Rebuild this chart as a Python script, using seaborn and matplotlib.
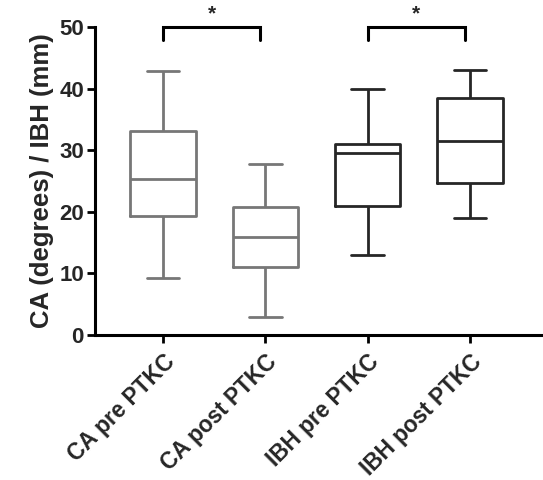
import pandas as pd
import numpy as np
import matplotlib
matplotlib.use("Agg")
import matplotlib.pyplot as plt
import seaborn as sns

# ===============================================================
# DATA (five-number summaries: min, Q1, median, Q3, max)
# ===============================================================

groups = ["CA pre PTKC", "CA post PTKC", "IBH pre PTKC", "IBH post PTKC"]
ca_pre = [9.3, 19.3, 25.3, 33.1, 42.9]
ca_post = [3.0, 11.1, 15.9, 20.7, 27.7]
ibh_pre = [13.0, 20.9, 29.5, 31.0, 40.0]
ibh_post = [19.0, 24.7, 31.5, 38.4, 43.0]
box_colors = ["#777777", "#777777", "#262626", "#262626"]
sig_pairs = [(0, 1), (2, 3)]
sig_labels = ["*", "*"]

df = pd.DataFrame({
    "group": np.repeat(groups, 5),
    "value": ca_pre + ca_post + ibh_pre + ibh_post,
})

# ===============================================================
# PLOT
# ===============================================================

sns.set_style("ticks")
plt.rcParams["font.family"] = ["Liberation Sans", "DejaVu Sans"]
plt.rcParams["font.weight"] = "bold"

fig = plt.figure(figsize=(5.43, 4.8), dpi=100)
ax = fig.add_axes([0.175, 0.302, 0.825, 0.642])

sns.boxplot(
    data=df, x="group", y="value", hue="group", order=groups,
    palette=box_colors, fill=False, whis=(0, 100), width=0.64,
    linewidth=2.0, saturation=1, legend=False, ax=ax,
)

ax.set_ylim(0, 50)
ax.set_xlim(-0.665, 3.715)
ax.set_yticks([0, 10, 20, 30, 40, 50])
ax.set_xlabel("")
ax.set_ylabel("CA (degrees) / IBH (mm)", fontsize=18.5, fontweight="bold", labelpad=4)

for side in ["top", "right"]:
    ax.spines[side].set_visible(False)
for side in ["left", "bottom"]:
    ax.spines[side].set_linewidth(2.2)
    ax.spines[side].set_color("black")

ax.tick_params(axis="both", width=2.0, length=6, color="black")
ax.tick_params(axis="y", labelsize=16, pad=2)
ax.tick_params(axis="x", labelsize=16.3, pad=5)
plt.setp(ax.get_xticklabels(), rotation=45, ha="right", rotation_mode="anchor",
         fontweight="bold")
plt.setp(ax.get_yticklabels(), fontweight="bold")

# significance brackets
for (a, b), lab in zip(sig_pairs, sig_labels):
    x0, x1 = a, b - 0.05
    ax.plot([x0, x0, x1, x1], [47.9, 50, 50, 47.9], color="black", lw=2.2,
            clip_on=False, solid_joinstyle="miter")
    ax.text((x0 + x1) / 2, 50.5, lab, ha="center", va="bottom", fontsize=15,
            fontweight="bold", clip_on=False)

plt.savefig("out.png", dpi=100)
